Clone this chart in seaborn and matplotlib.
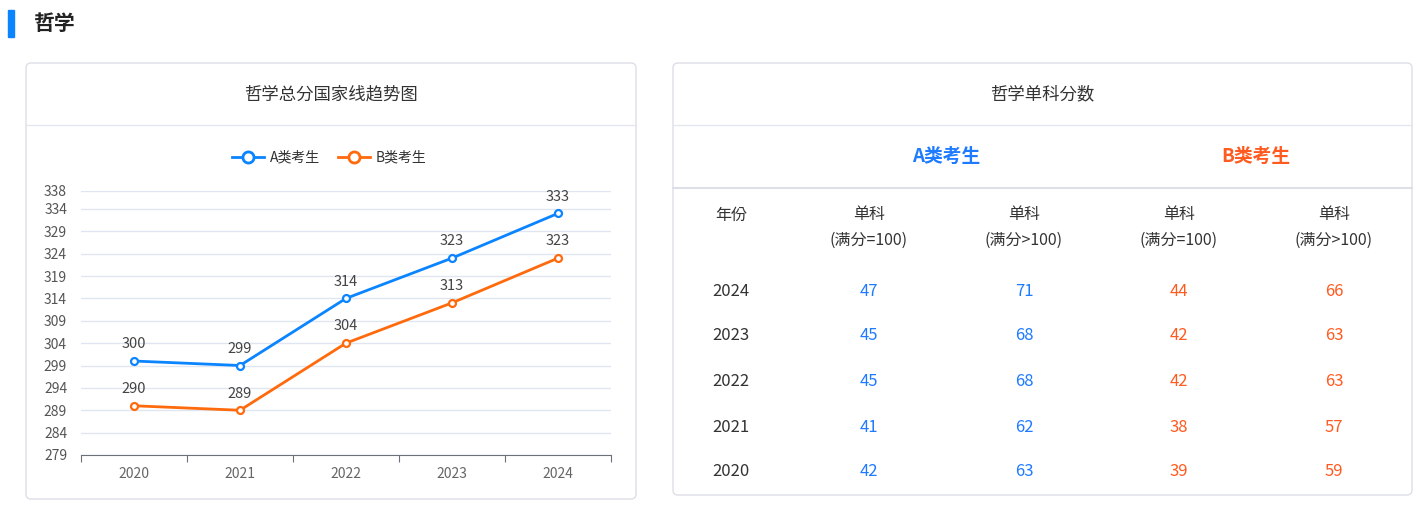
import matplotlib
matplotlib.use("Agg")
import matplotlib.pyplot as plt
import seaborn as sns
import pandas as pd
from matplotlib import font_manager
from matplotlib.patches import FancyBboxPatch, Rectangle

# find an installed CJK font by name
cjk = [f.name for f in font_manager.fontManager.ttflist if "CJK" in f.name]
sc = [n for n in cjk if "SC" in n]
families = (sc[:1] or cjk[:1]) + ["DejaVu Sans"]
plt.rcParams["font.family"] = families
plt.rcParams["font.sans-serif"] = families

W, H = 1425, 505
years = ["2020", "2021", "2022", "2023", "2024"]
a_total = [300, 299, 314, 323, 333]
b_total = [290, 289, 304, 313, 323]
y_ticks = [279, 284, 289, 294, 299, 304, 309, 314, 319, 324, 329, 334, 338]

table_years = ["2024", "2023", "2022", "2021", "2020"]
a_single100 = [47, 45, 45, 41, 42]
a_single_over = [71, 68, 68, 62, 63]
b_single100 = [44, 42, 42, 38, 39]
b_single_over = [66, 63, 63, 57, 59]

BLUE = "#0a84ff"
ORANGE = "#ff6a0d"
T_BLUE = "#1e7bff"
T_ORANGE = "#ff5a1f"


def fx(x):
    return x / W


def fy(y):
    return 1 - y / H


fig = plt.figure(figsize=(W / 100, H / 100), dpi=100)
bg = fig.add_axes([0, 0, 1, 1])
bg.set_xlim(0, W)
bg.set_ylim(H, 0)
bg.axis("off")

# section header
bg.add_patch(Rectangle((8, 10), 6, 27, color="#0a84ff"))
bg.text(33, 23, "哲学", fontsize=15, fontweight="bold", color="#222222", va="center")

# cards
for x0, y0, x1, y1 in [(26, 63, 636, 499), (673, 63, 1412, 495)]:
    bg.add_patch(FancyBboxPatch((x0, y0), x1 - x0, y1 - y0, boxstyle="round,pad=0,rounding_size=5",
                                fc="white", ec="#dcdfe6", lw=1))
    bg.plot([x0, x1], [125, 125], color="#e4e7ed", lw=1)

bg.text(331, 94, "哲学总分国家线趋势图", fontsize=12.5, color="#333333", ha="center", va="center")
bg.text(1042, 94, "哲学单科分数", fontsize=12.5, color="#333333", ha="center", va="center")

# legend
for lx, label, c in [(248, "A类考生", BLUE), (354, "B类考生", ORANGE)]:
    bg.plot([lx - 16, lx + 16], [157, 157], color=c, lw=2)
    bg.plot(lx, 157, "o", ms=8, mfc="white", mec=c, mew=2)
    bg.text(lx + 22, 157, label, fontsize=10, color="#333333", va="center")

# line chart
ax = fig.add_axes([fx(81), fy(455), 530 / W, (455 - 191) / H])
df = pd.DataFrame({"x": list(range(5)) * 2, "y": a_total + b_total,
                   "g": ["A"] * 5 + ["B"] * 5})
sns.lineplot(data=df, x="x", y="y", hue="g", palette={"A": BLUE, "B": ORANGE},
             lw=2, legend=False, ax=ax)
for line in ax.lines:
    line.set_marker("o")
    line.set_markersize(5)
    line.set_markerfacecolor("white")
    line.set_markeredgecolor(line.get_color())
    line.set_markeredgewidth(1.6)
for i, (a, b) in enumerate(zip(a_total, b_total)):
    for v in (a, b):
        ax.annotate(str(v), (i, v), xytext=(0, 7), textcoords="offset points", ha="center",
                    va="bottom", fontsize=10.5, color="#444444")
ax.set_xlim(-0.5, 4.5)
ax.set_ylim(279, 338)
ax.set_yticks(y_ticks)
ax.yaxis.grid(True, color="#e0e6f1", lw=1)
ax.set_axisbelow(True)
ax.tick_params(axis="y", length=0, labelsize=10, labelcolor="#555555", pad=10)
ax.set_xticks([i - 0.5 for i in range(6)])
ax.set_xticklabels([])
ax.set_xticks(range(5), minor=True)
ax.set_xticklabels(years, minor=True)
ax.tick_params(axis="x", which="major", length=5, color="#6e7079")
ax.tick_params(axis="x", which="minor", length=0, labelsize=10, labelcolor="#666666", pad=9)
for s in ["top", "right", "left"]:
    ax.spines[s].set_visible(False)
ax.spines["bottom"].set_color("#6e7079")
ax.set_xlabel("")
ax.set_ylabel("")

# table
bg.text(946, 156, "A类考生", fontsize=13.5, fontweight="bold", color=T_BLUE, ha="center", va="center")
bg.text(1256, 156, "B类考生", fontsize=13.5, fontweight="bold", color=T_ORANGE, ha="center", va="center")
bg.plot([673, 1412], [188, 188], color="#dcdfe6", lw=1.5)
col_x = [731, 869, 1024, 1179, 1334]
bg.text(col_x[0], 215, "年份", fontsize=11.5, color="#333333", ha="center", va="center")
for cx, sub in zip(col_x[1:], ["(满分=100)", "(满分>100)", "(满分=100)", "(满分>100)"]):
    bg.text(cx, 215, "单科", fontsize=11.5, color="#333333", ha="center", va="center")
    bg.text(cx, 240, sub, fontsize=11.5, color="#333333", ha="center", va="center")
row_y = [291, 336, 381, 427, 472]
for i, ry in enumerate(row_y):
    vals = [table_years[i], a_single100[i], a_single_over[i], b_single100[i], b_single_over[i]]
    cols = ["#333333", T_BLUE, T_BLUE, T_ORANGE, T_ORANGE]
    for cx, v, c in zip(col_x, vals, cols):
        bg.text(cx, ry, str(v), fontsize=12, color=c, ha="center", va="center")

fig.savefig("out.png", dpi=100)
